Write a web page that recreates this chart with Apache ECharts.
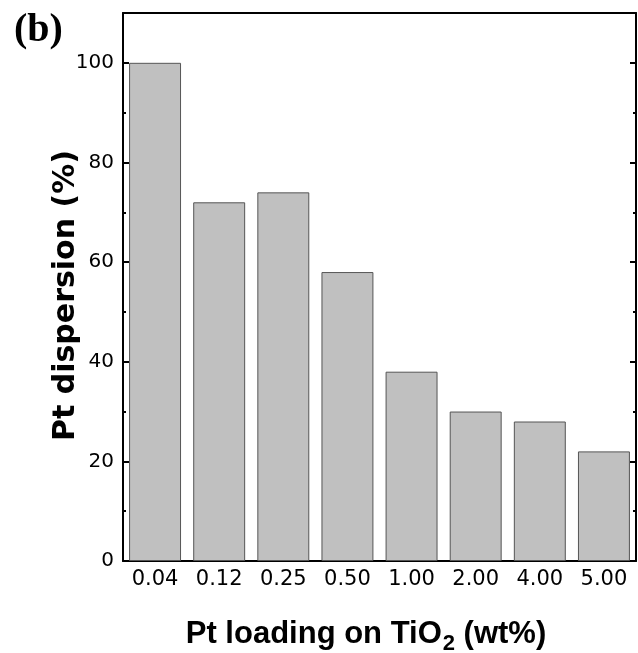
<!DOCTYPE html>
<html><head><meta charset="utf-8">
<script src="https://cdn.jsdelivr.net/npm/echarts@6/dist/echarts.min.js"></script>
<style>html,body{margin:0;padding:0;background:#fff}#c{width:638px;height:653px}</style>
</head><body><div id="c"></div>
<script>
const categories = ['0.04','0.12','0.25','0.50','1.00','2.00','4.00','5.00'];
const dispersion = [100, 72, 74, 58, 38, 30, 28, 22];
const yTicks = [0, 20, 40, 60, 80, 100];

const chart = echarts.init(document.getElementById('c'), null, {renderer:'canvas'});
const font = 'DejaVu Sans, sans-serif';
const boldFont = 'Liberation Sans, Arial, sans-serif';
chart.setOption({
  animation: false,
  backgroundColor: '#fff',
  grid: {left: 123, right: 2, top: 13, bottom: 92, outerBoundsMode: 'none', containLabel: false},
  title: {text: '(b)', left: 9, top: 6, textStyle: {fontFamily: 'Liberation Serif, Times New Roman, serif', fontWeight: 'bold', fontSize: 40, color: '#000'}},
  xAxis: [
    {type: 'category', data: categories, position: 'bottom',
     axisLine: {lineStyle: {color: '#000', width: 2}},
     axisTick: {inside: true, alignWithLabel: true, length: 6, lineStyle: {color: '#000', width: 2}},
     axisLabel: {fontFamily: font, fontSize: 21, color: '#000', margin: 8},
     name: '{a|Pt loading on TiO}{b|2}{a| (wt%)}', nameLocation: 'middle', nameGap: 55,
     nameMoveOverlap: false,
     nameTextStyle: {padding: [0, 27, 0, 0],
       rich: {a: {fontFamily: boldFont, fontWeight: 'bold', fontSize: 31, color: '#000', lineHeight: 36},
              b: {fontFamily: boldFont, fontWeight: 'bold', fontSize: 22, color: '#000', lineHeight: 36, padding: [20, 0, 0, 1]}}}},
    {type: 'category', data: categories, position: 'bottom', gridIndex: 0,
     axisLine: {show: false},
     axisTick: {inside: true, length: 3, lineStyle: {color: '#000', width: 2}},
     axisLabel: {show: false}},
    {type: 'category', data: categories, position: 'top', gridIndex: 0,
     axisLine: {lineStyle: {color: '#000', width: 2}},
     axisTick: {show: false}, axisLabel: {show: false}}
  ],
  yAxis: [
    {type: 'value', min: 0, max: 110, interval: 20, position: 'left',
     axisLine: {show: true, lineStyle: {color: '#000', width: 2}},
     axisTick: {show: true, inside: true, length: 6, lineStyle: {color: '#000', width: 2}},
     minorTick: {show: true, splitNumber: 2, length: 3, lineStyle: {color: '#000', width: 2}},
     splitLine: {show: false},
     axisLabel: {fontFamily: font, fontSize: 20, color: '#000', margin: 9,
                 formatter: v => yTicks.includes(v) ? String(v) : ''},
     name: 'Pt dispersion (%)', nameLocation: 'middle', nameGap: 42, nameRotate: 90,
     nameMoveOverlap: false,
     nameTextStyle: {fontFamily: font, fontWeight: 'bold', fontSize: 30, color: '#000', padding: [0, 17, 0, 0]}},
    {type: 'value', min: 0, max: 110, interval: 20, position: 'right',
     axisLine: {show: true, lineStyle: {color: '#000', width: 2}},
     axisTick: {show: true, inside: true, length: 6, lineStyle: {color: '#000', width: 2}},
     minorTick: {show: true, splitNumber: 2, length: 3, lineStyle: {color: '#000', width: 2}},
     splitLine: {show: false}, axisLabel: {show: false}}
  ],
  series: [{
    type: 'bar', data: dispersion, xAxisIndex: 0, yAxisIndex: 0,
    barCategoryGap: '19%',
    itemStyle: {color: '#c0c0c0', borderColor: '#555', borderWidth: 1}
  }]
});
</script></body></html>
